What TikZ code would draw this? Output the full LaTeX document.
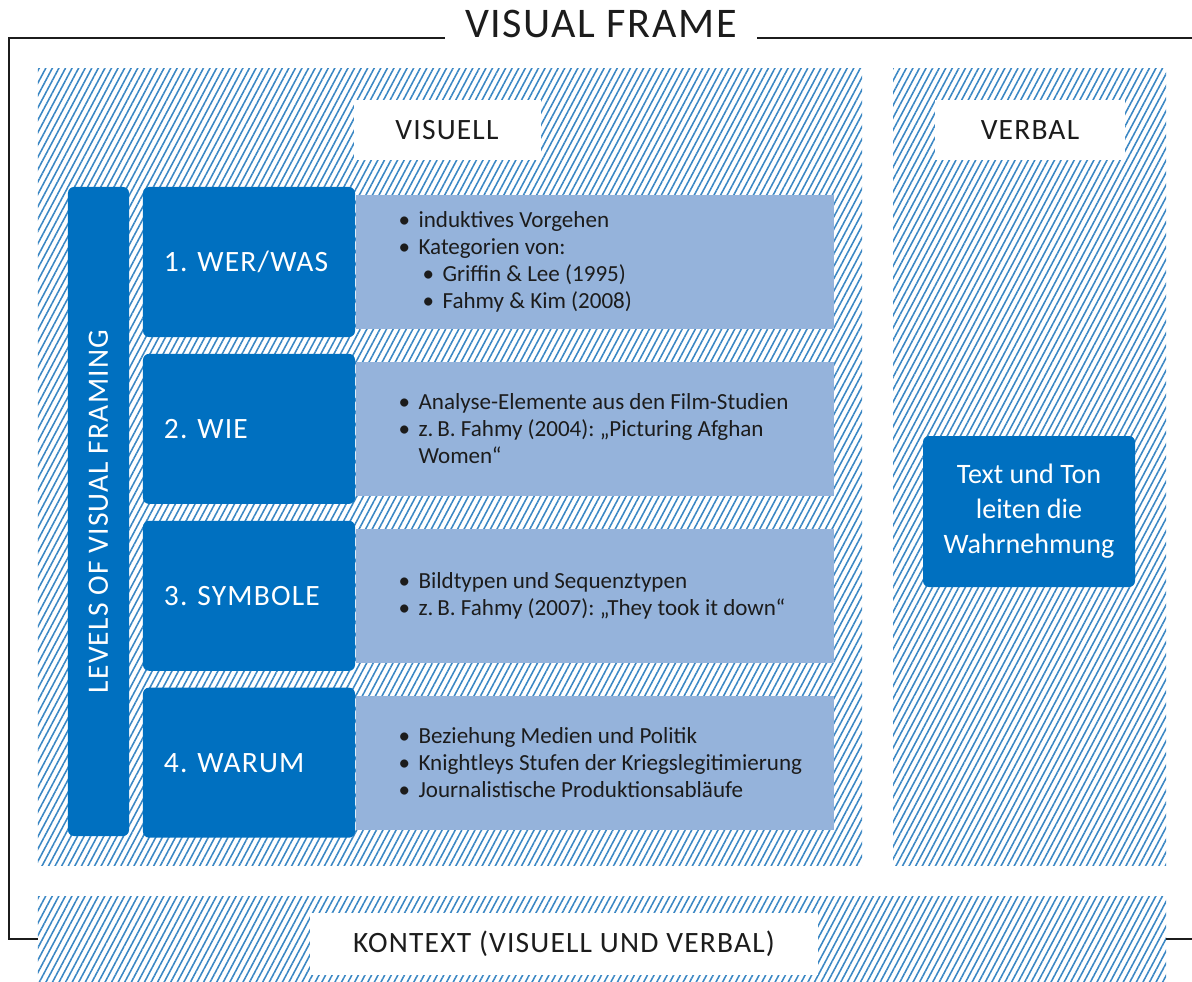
\documentclass[tikz,border=0pt]{standalone}
\usepackage{fontspec}
\setmainfont{Carlito}
\newfontfamily\capsfont[LetterSpace=4]{Carlito}
\usetikzlibrary{positioning, patterns.meta}
\definecolor{frameblue}{HTML}{0070C0}
\definecolor{detailblue}{HTML}{95B3DB}
\definecolor{hatchblue}{HTML}{3A87C4}
\definecolor{inkgray}{HTML}{1C1C1C}
\newcommand{\blt}{\makebox[5mm][l]{\textbullet}}
\newcommand{\subblt}{\hspace*{6mm}\blt}
\frenchspacing

\begin{document}
\begin{tikzpicture}[x=0.25mm, y=-0.25mm,
  hatched/.style={inner sep=0pt, pattern={Lines[angle=62, distance=1.45mm, line width=1.1pt]}, pattern color=hatchblue},
  tag/.style={fill=white, inner sep=0pt, minimum height=15mm, text=inkgray, font=\capsfont\fontsize{21}{25}\selectfont},
  level/.style={fill=frameblue, rounded corners=1.5mm, text=white, minimum height=37.5mm, text width=42.5mm, inner xsep=5.25mm, align=left, font=\capsfont\fontsize{21}{25}\selectfont},
  detail/.style={fill=detailblue, minimum width=119.5mm, minimum height=33.5mm, inner sep=0pt},
  items/.style={inner sep=0pt, align=left, text=inkgray, font=\fontsize{16.4}{19.2}\selectfont},
  frame/.style={line width=2pt, draw=inkgray}]
\path[use as bounding box, fill=white] (0,0) rectangle (1192,982);

% hatched areas
\node[hatched, minimum width=206mm, minimum height=199mm] (visuell area) at (450,467) {};
\node[hatched, minimum width=68.25mm, minimum height=199mm] (verbal area) at (1029.5,467) {};
\node[hatched, minimum width=282mm, minimum height=21.5mm] (kontext band) at (602,939) {};

% outer frame with title
\node[anchor=base, inner xsep=5mm, text=inkgray, font=\capsfont\fontsize{30}{36}\selectfont] (title) at (601,38) {VISUAL FRAME};
\draw[frame] (title.base west) -- (9,38) |- (kontext band.west);
\draw[frame] (title.base east) -- (1192,38);
\draw[frame] (kontext band.east) -- (1192,939);

% headings
\node[tag, minimum width=46.75mm] (visuell) at (447,130) {VISUELL};
\node[tag, minimum width=47.5mm] (verbal) at (1030,130) {VERBAL};
\node[tag, minimum width=127mm, minimum height=15.5mm] (kontext) at (564,944) {KONTEXT (VISUELL UND VERBAL)};

% levels of visual framing
\node[fill=frameblue, rounded corners=1.5mm, minimum width=15.25mm, minimum height=162.25mm, inner sep=0pt] (levels) at (98.5,511.5) {};
\node[rotate=90, text=white, font=\capsfont\fontsize{21}{25}\selectfont] (levels text) at (levels.center) {LEVELS OF VISUAL FRAMING};

\node[level] (wer) at (249,262) {1. WER/WAS};
\node[level, below=4.08mm of wer] (wie) {2. WIE};
\node[level, below=4.08mm of wie] (symbole) {3. SYMBOLE};
\node[level, below=4.08mm of symbole] (warum) {4. WARUM};

\node[detail, right=0pt of wer] (wer info) {};
\node[detail, right=0pt of wie] (wie info) {};
\node[detail, right=0pt of symbole] (symbole info) {};
\node[detail, right=0pt of warum] (warum info) {};

\node[items, right=10.75mm of wer info.west] (wer items) {\blt induktives Vorgehen\\
  \blt Kategorien von:\\
  \subblt Griffin \& Lee (1995)\\
  \subblt Fahmy \& Kim (2008)};
\node[items, right=10.75mm of wie info.west] (wie items) {\blt Analyse-Elemente aus den Film-Studien\\
  \blt z.\,B. Fahmy (2004): „Picturing Afghan\\
  \hspace*{5mm}Women“};
\node[items, right=10.75mm of symbole info.west] (symbole items) {\blt Bildtypen und Sequenztypen\\
  \blt z.\,B. Fahmy (2007): „They took it down“};
\node[items, right=10.75mm of warum info.west] (warum items) {\blt Beziehung Medien und Politik\\
  \blt Knightleys Stufen der Kriegslegitimierung\\
  \blt Journalistische Produktionsabläufe};

% verbal side
\node[fill=frameblue, rounded corners=1.5mm, minimum width=53mm, minimum height=37.75mm, text=white, align=center, font=\fontsize{20}{25}\selectfont] (ton) at (1029,511.5) {Text und Ton\\leiten die\\Wahrnehmung};
\end{tikzpicture}
\end{document}
